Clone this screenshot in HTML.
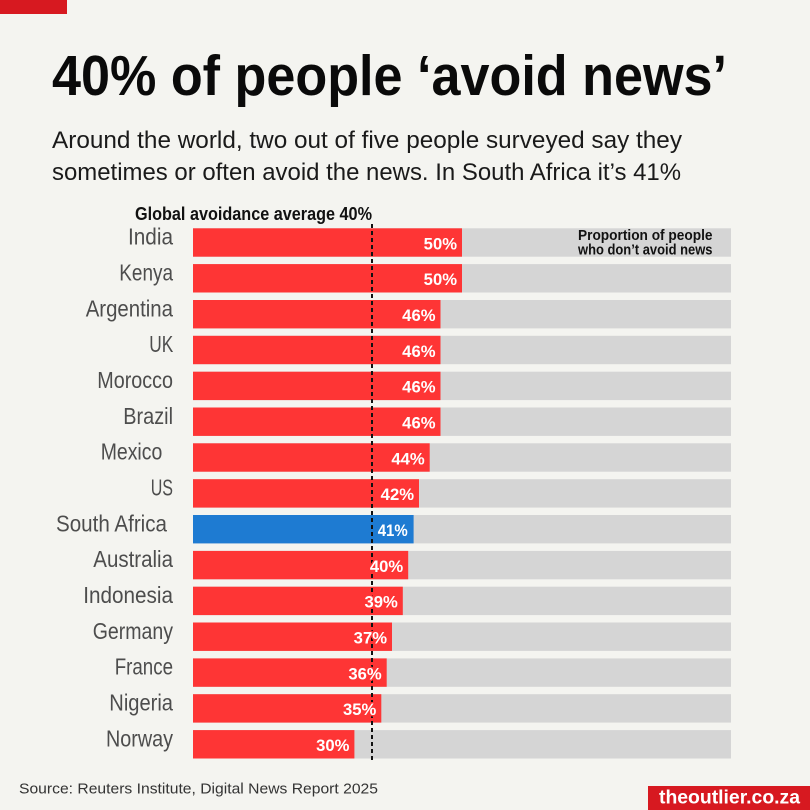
<!DOCTYPE html>
<html><head><meta charset="utf-8"><style>
html,body{margin:0;padding:0;background:#f4f4f0;}
svg{display:block;}
</style></head><body>
<svg width="810" height="810" viewBox="0 0 810 810" xmlns="http://www.w3.org/2000/svg">
<rect x="0" y="0" width="810" height="810" fill="#f4f4f0"/>
<rect x="0" y="0" width="67" height="14" fill="#d71920"/>
<text x="52" y="95" font-family="Liberation Sans, sans-serif" font-weight="bold" font-size="57" fill="#0a0a0a" textLength="675" lengthAdjust="spacingAndGlyphs">40% of people ‘avoid news’</text>
<text x="52" y="148" font-family="Liberation Sans, sans-serif" font-size="24" fill="#1a1a1a" textLength="630" lengthAdjust="spacingAndGlyphs">Around the world, two out of five people surveyed say they</text>
<text x="52" y="180" font-family="Liberation Sans, sans-serif" font-size="24" fill="#1a1a1a" textLength="629" lengthAdjust="spacingAndGlyphs">sometimes or often avoid the news. In South Africa it’s 41%</text>
<text x="135" y="220" font-family="Liberation Sans, sans-serif" font-weight="bold" font-size="18" fill="#111" textLength="237" lengthAdjust="spacingAndGlyphs">Global avoidance average 40%</text>

<g font-family="Liberation Sans, sans-serif">
<g id="bars">
<rect x="193" y="228.3" width="538" height="28.4" fill="#d5d5d5"/><rect x="193" y="228.3" width="269" height="28.4" fill="#fe3535"/>
<rect x="193" y="264.1" width="538" height="28.4" fill="#d5d5d5"/><rect x="193" y="264.1" width="269" height="28.4" fill="#fe3535"/>
<rect x="193" y="300.0" width="538" height="28.4" fill="#d5d5d5"/><rect x="193" y="300.0" width="247.5" height="28.4" fill="#fe3535"/>
<rect x="193" y="335.8" width="538" height="28.4" fill="#d5d5d5"/><rect x="193" y="335.8" width="247.5" height="28.4" fill="#fe3535"/>
<rect x="193" y="371.7" width="538" height="28.4" fill="#d5d5d5"/><rect x="193" y="371.7" width="247.5" height="28.4" fill="#fe3535"/>
<rect x="193" y="407.5" width="538" height="28.4" fill="#d5d5d5"/><rect x="193" y="407.5" width="247.5" height="28.4" fill="#fe3535"/>
<rect x="193" y="443.3" width="538" height="28.4" fill="#d5d5d5"/><rect x="193" y="443.3" width="236.7" height="28.4" fill="#fe3535"/>
<rect x="193" y="479.2" width="538" height="28.4" fill="#d5d5d5"/><rect x="193" y="479.2" width="226" height="28.4" fill="#fe3535"/>
<rect x="193" y="515.0" width="538" height="28.4" fill="#d5d5d5"/><rect x="193" y="515.0" width="220.6" height="28.4" fill="#1e7bd2"/>
<rect x="193" y="550.9" width="538" height="28.4" fill="#d5d5d5"/><rect x="193" y="550.9" width="215.2" height="28.4" fill="#fe3535"/>
<rect x="193" y="586.7" width="538" height="28.4" fill="#d5d5d5"/><rect x="193" y="586.7" width="209.8" height="28.4" fill="#fe3535"/>
<rect x="193" y="622.5" width="538" height="28.4" fill="#d5d5d5"/><rect x="193" y="622.5" width="199" height="28.4" fill="#fe3535"/>
<rect x="193" y="658.4" width="538" height="28.4" fill="#d5d5d5"/><rect x="193" y="658.4" width="193.7" height="28.4" fill="#fe3535"/>
<rect x="193" y="694.2" width="538" height="28.4" fill="#d5d5d5"/><rect x="193" y="694.2" width="188.3" height="28.4" fill="#fe3535"/>
<rect x="193" y="730.1" width="538" height="28.4" fill="#d5d5d5"/><rect x="193" y="730.1" width="161.4" height="28.4" fill="#fe3535"/>
</g>

<line x1="372" y1="224" x2="372" y2="762" stroke="#111" stroke-width="2" stroke-dasharray="4,3"/>

<g font-size="23" fill="#4d4d4d">
<text x="128" y="244.6" textLength="45" lengthAdjust="spacingAndGlyphs">India</text>
<text x="119.3" y="280.4" textLength="53.7" lengthAdjust="spacingAndGlyphs">Kenya</text>
<text x="85.7" y="316.3" textLength="87.3" lengthAdjust="spacingAndGlyphs">Argentina</text>
<text x="149.3" y="352.1" textLength="24" lengthAdjust="spacingAndGlyphs">UK</text>
<text x="97.3" y="388.0" textLength="75.7" lengthAdjust="spacingAndGlyphs">Morocco</text>
<text x="123.3" y="423.8" textLength="49.7" lengthAdjust="spacingAndGlyphs">Brazil</text>
<text x="100.7" y="459.6" textLength="61.6" lengthAdjust="spacingAndGlyphs">Mexico</text>
<text x="150.7" y="495.5" textLength="22.3" lengthAdjust="spacingAndGlyphs">US</text>
<text x="56" y="531.3" textLength="111" lengthAdjust="spacingAndGlyphs">South Africa</text>
<text x="93.3" y="567.2" textLength="79.7" lengthAdjust="spacingAndGlyphs">Australia</text>
<text x="83.3" y="603.0" textLength="89.7" lengthAdjust="spacingAndGlyphs">Indonesia</text>
<text x="92.7" y="638.8" textLength="80.3" lengthAdjust="spacingAndGlyphs">Germany</text>
<text x="114.7" y="674.7" textLength="58.3" lengthAdjust="spacingAndGlyphs">France</text>
<text x="109.3" y="710.5" textLength="63.7" lengthAdjust="spacingAndGlyphs">Nigeria</text>
<text x="106" y="746.4" textLength="67" lengthAdjust="spacingAndGlyphs">Norway</text>
</g>

<g font-size="16.5" font-weight="bold" fill="#fff" stroke="#fe3535" stroke-width="3" paint-order="stroke" stroke-linejoin="round">
<text x="423.7" y="249.3" textLength="33.3" lengthAdjust="spacingAndGlyphs">50%</text>
<text x="423.7" y="285.1" textLength="33.3" lengthAdjust="spacingAndGlyphs">50%</text>
<text x="402.2" y="321.0" textLength="33.3" lengthAdjust="spacingAndGlyphs">46%</text>
<text x="402.2" y="356.8" textLength="33.3" lengthAdjust="spacingAndGlyphs">46%</text>
<text x="402.2" y="392.7" textLength="33.3" lengthAdjust="spacingAndGlyphs">46%</text>
<text x="402.2" y="428.5" textLength="33.3" lengthAdjust="spacingAndGlyphs">46%</text>
<text x="391.4" y="464.3" textLength="33.3" lengthAdjust="spacingAndGlyphs">44%</text>
<text x="380.7" y="500.2" textLength="33.3" lengthAdjust="spacingAndGlyphs">42%</text>
<text x="377.7" y="536.0" textLength="30" lengthAdjust="spacingAndGlyphs" stroke="#1e7bd2">41%</text>
<text x="369.9" y="571.9" textLength="33.3" lengthAdjust="spacingAndGlyphs">40%</text>
<text x="364.5" y="607.7" textLength="33.3" lengthAdjust="spacingAndGlyphs">39%</text>
<text x="353.7" y="643.5" textLength="33.3" lengthAdjust="spacingAndGlyphs">37%</text>
<text x="348.4" y="679.4" textLength="33.3" lengthAdjust="spacingAndGlyphs">36%</text>
<text x="343.0" y="715.2" textLength="33.3" lengthAdjust="spacingAndGlyphs">35%</text>
<text x="316.1" y="751.1" textLength="33.3" lengthAdjust="spacingAndGlyphs">30%</text>
</g>

<g font-size="14.5" font-weight="bold" fill="#111">
<text x="578" y="240" textLength="134.5" lengthAdjust="spacingAndGlyphs">Proportion of people</text>
<text x="578" y="254.3" textLength="134.5" lengthAdjust="spacingAndGlyphs">who don’t avoid news</text>
</g>
</g>

<text x="19" y="793.3" font-family="Liberation Sans, sans-serif" font-size="14.5" fill="#333" textLength="359" lengthAdjust="spacingAndGlyphs">Source: Reuters Institute, Digital News Report 2025</text>

<rect x="648" y="786" width="162" height="24" fill="#d71920"/>
<text x="659" y="803.5" font-family="Liberation Sans, sans-serif" font-size="19" font-weight="bold" fill="#fff" textLength="141" lengthAdjust="spacingAndGlyphs">theoutlier.co.za</text>
</svg>
</body></html>
